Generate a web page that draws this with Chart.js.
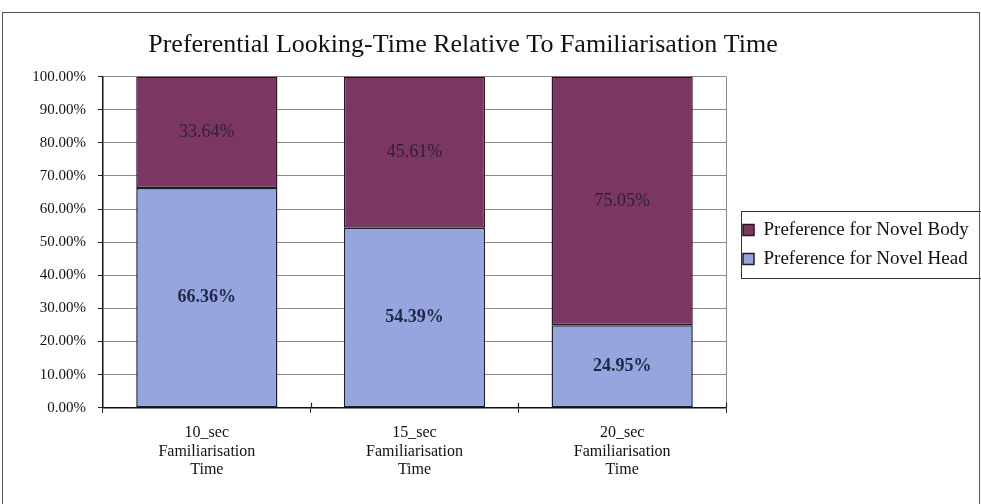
<!DOCTYPE html>
<html>
<head>
<meta charset="utf-8">
<script src="https://cdn.jsdelivr.net/npm/chart.js@4"></script>
<style>
  html, body { margin: 0; padding: 0; background: #fff; }
  #wrap { position: relative; width: 981px; height: 504px; }
  #frame { position: absolute; left: 2px; top: 12px; width: 976px; height: 500px; border: 1px solid #555; pointer-events: none; }
</style>
</head>
<body>
<div id="wrap">
  <canvas id="grafico" width="981" height="504"></canvas>
  <div id="frame"></div>
</div>
<script>
const ctx = document.getElementById("grafico").getContext("2d");

// Datos
const categorias = [
  ["10_sec", "Familiarisation", "Time"],
  ["15_sec", "Familiarisation", "Time"],
  ["20_sec", "Familiarisation", "Time"]
];
const novelHead = [66.36, 54.39, 24.95];
const novelBody = [33.64, 45.61, 75.05];
const ticksY = [0, 10, 20, 30, 40, 50, 60, 70, 80, 90, 100];

const serif = "'Liberation Serif', 'Times New Roman', serif";

// etiquetas de valor dentro de las barras
const estilosEtiqueta = [
  { font: "bold 18px " + serif, color: "#1f2848" },
  { font: "18px " + serif, color: "#2e2238" }
];
const etiquetas = {
  id: "etiquetas",
  afterDatasetsDraw(chart) {
    const c = chart.ctx;
    c.save();
    c.textAlign = "center";
    c.textBaseline = "middle";
    chart.data.datasets.forEach((ds, i) => {
      c.font = estilosEtiqueta[i].font;
      c.fillStyle = estilosEtiqueta[i].color;
      chart.getDatasetMeta(i).data.forEach((bar, j) => {
        const p = bar.getProps(["x", "y", "base"], true);
        c.fillText(ds.data[j].toFixed(2) + "%", p.x, (p.y + p.base) / 2);
      });
    });
    c.restore();
  }
};

// borde derecho del area, marcas del eje x y marco de la leyenda
const bordes = {
  id: "bordes",
  beforeLayout(chart) {
    const lg = chart.legend;
    if (lg && !lg._fijo) {
      const fit = lg.fit;
      lg.fit = function () { fit.call(this); this.width = 200; };
      lg._fijo = true;
    }
  },
  afterLayout(chart) {
    const lg = chart.legend;
    lg.left = 733;
    lg.right = 981;
    lg.width = lg.right - lg.left;
    lg.top -= 11;
    lg.bottom -= 11;
  },
  afterDraw(chart) {
    const c = chart.ctx;
    const a = chart.chartArea;
    c.save();
    c.strokeStyle = "#888";
    c.lineWidth = 1;
    c.beginPath();
    c.moveTo(a.right + 0.5, a.top);
    c.lineTo(a.right + 0.5, a.bottom);
    c.stroke();

    // marcas que cruzan el eje x
    const n = chart.data.labels.length;
    const w = (a.right - a.left) / n;
    c.strokeStyle = "#222";
    c.lineWidth = 1.2;
    c.beginPath();
    for (let k = 1; k <= n; k++) {
      const x = Math.round(a.left + k * w) + 0.5;
      c.moveTo(x, a.bottom - 5);
      c.lineTo(x, a.bottom);
    }
    c.stroke();

    const lg = chart.legend;
    const hb = lg.legendHitBoxes;
    if (hb && hb.length) {
      const x0 = lg.left + lg.options.labels.padding - 2.5;
      const y0 = Math.min(...hb.map(h => h.top)) - 9.5;
      const y1 = Math.max(...hb.map(h => h.top + h.height)) + 9.5;
      c.strokeStyle = "#333";
      c.lineWidth = 1;
      c.strokeRect(Math.round(x0) + 0.5, Math.round(y0) + 0.5, 990 - x0, Math.round(y1 - y0));
    }
    c.restore();
  }
};

new Chart(ctx, {
  type: "bar",
  data: {
    labels: categorias,
    datasets: [
      {
        label: "Preference for Novel Head",
        data: novelHead,
        backgroundColor: "#97a5de",
        borderColor: "#1c1c2c",
        borderWidth: 1.5,
        borderSkipped: false,
        barPercentage: 0.68,
        categoryPercentage: 1
      },
      {
        label: "Preference for Novel Body",
        data: novelBody,
        backgroundColor: "#7c3662",
        borderColor: "#2a1424",
        borderWidth: 1.5,
        borderSkipped: false,
        barPercentage: 0.68,
        categoryPercentage: 1
      }
    ]
  },
  options: {
    responsive: false,
    animation: false,
    layout: { padding: { left: 0, right: 55, top: 21, bottom: 14 } },
    plugins: {
      title: {
        display: true,
        text: "Preferential Looking-Time Relative To Familiarisation Time",
        color: "#111",
        font: { family: serif, size: 26, weight: "normal", lineHeight: 1.1 },
        padding: { top: 10, bottom: 17 }
      },
      legend: {
        display: true,
        position: "right",
        reverse: true,
        labels: {
          color: "#111",
          font: { family: serif, size: 19 },
          boxWidth: 11,
          boxHeight: 11,
          padding: 10,
          useBorderRadius: false
        }
      },
      tooltip: { enabled: false }
    },
    scales: {
      x: {
        stacked: true,
        offset: true,
        grid: { display: true, drawOnChartArea: false, offset: true, tickLength: 5, tickColor: "#222" },
        border: { color: "#111", width: 1.5 },
        ticks: { color: "#111", font: { family: serif, size: 16, lineHeight: 1.15 }, padding: 11, maxRotation: 0 }
      },
      y: {
        stacked: true,
        min: 0,
        max: 100,
        afterBuildTicks(scale) { scale.ticks = ticksY.map(v => ({ value: v })); },
        afterFit(scale) { scale.width = 103; },
        grid: { color: "#8a8a8a", tickColor: "#222", tickLength: 5 },
        border: { color: "#111", width: 1.5 },
        ticks: {
          color: "#111",
          font: { family: serif, size: 15 },
          padding: 12,
          callback: v => v.toFixed(2) + "%"
        }
      }
    }
  },
  plugins: [etiquetas, bordes]
});
</script>
</body>
</html>
